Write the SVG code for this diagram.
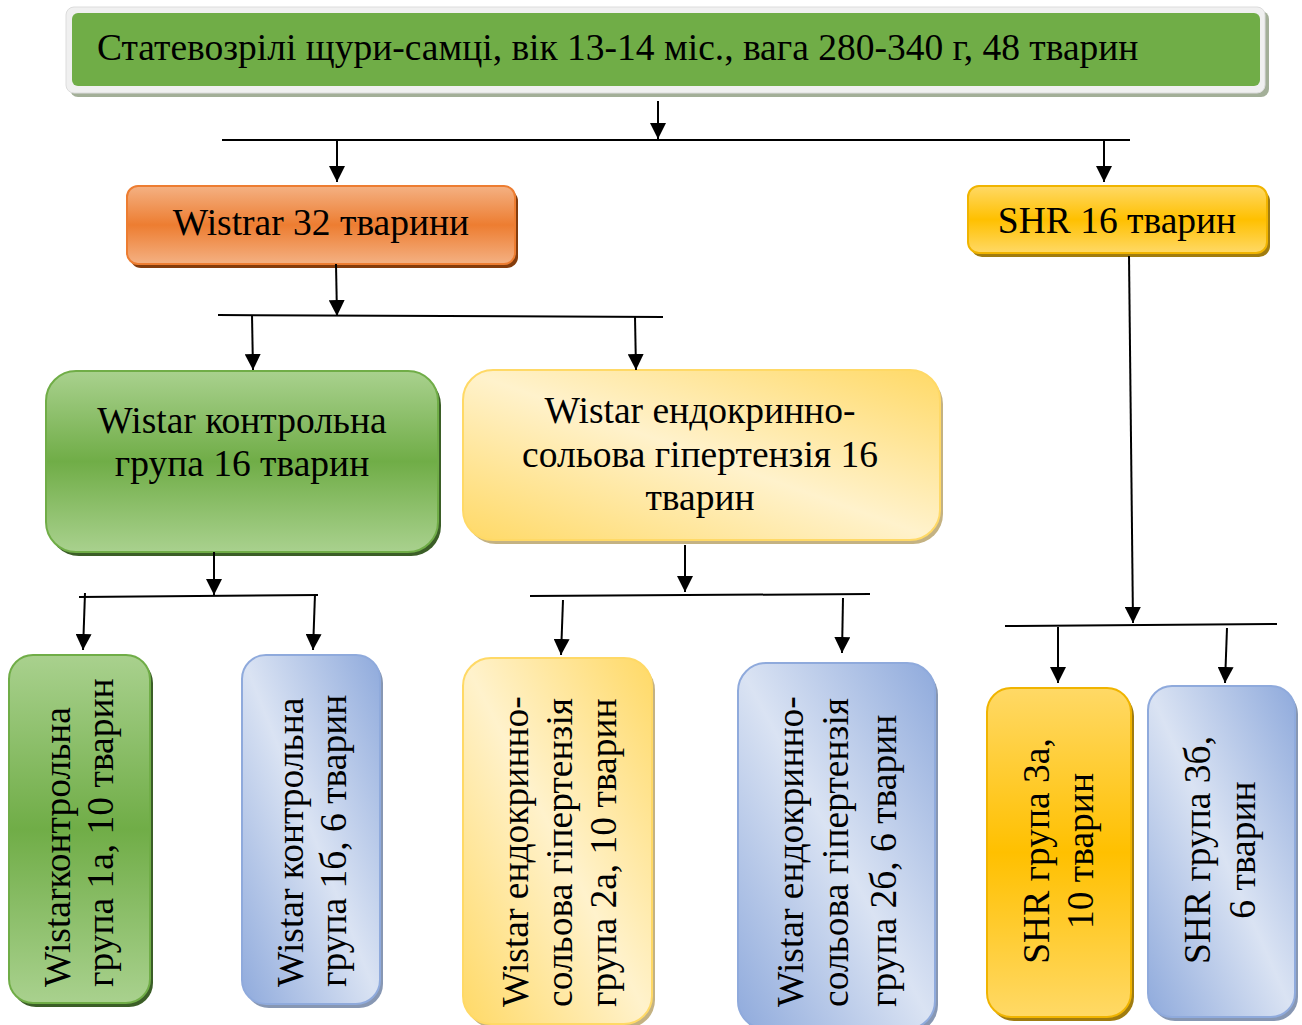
<svg xmlns="http://www.w3.org/2000/svg" width="1302" height="1025" viewBox="0 0 1302 1025">
<defs>
<linearGradient id="gOrange" x1="0" y1="0" x2="0" y2="1"><stop offset="0" stop-color="#F4B183"/><stop offset="0.5" stop-color="#ED7D31"/><stop offset="1" stop-color="#F4B183"/></linearGradient>
<linearGradient id="gGold" x1="0" y1="0" x2="0" y2="1"><stop offset="0" stop-color="#FFD966"/><stop offset="0.5" stop-color="#FFC000"/><stop offset="1" stop-color="#FFD966"/></linearGradient>
<linearGradient id="gGreen" x1="0" y1="0" x2="0" y2="1"><stop offset="0" stop-color="#A9D18E"/><stop offset="0.5" stop-color="#70AD47"/><stop offset="1" stop-color="#A9D18E"/></linearGradient>
<linearGradient id="gCream" x1="1" y1="0" x2="0" y2="1"><stop offset="0" stop-color="#FFD966"/><stop offset="0.5" stop-color="#FFF2CC"/><stop offset="1" stop-color="#FFD966"/></linearGradient>
<linearGradient id="gBlue" x1="1" y1="0" x2="0" y2="1"><stop offset="0" stop-color="#8FAADC"/><stop offset="0.5" stop-color="#DAE3F3"/><stop offset="1" stop-color="#8FAADC"/></linearGradient>
<marker id="arr" markerUnits="userSpaceOnUse" markerWidth="16" markerHeight="16" viewBox="0 0 15 15" refX="15" refY="7.5" orient="auto"><path d="M0,0 L15,7.5 L0,15 z" fill="#000"/></marker>
</defs>
<style>
text{font-family:"Liberation Serif","Times New Roman",serif;fill:#000;font-size:37.5px}
.v{font-size:37.5px}
.c{stroke:#000;stroke-width:2;fill:none}
.a{marker-end:url(#arr)}
.orange{fill:url(#gOrange);stroke:#ED7D31;stroke-width:2}
.gold{fill:url(#gGold);stroke:#F0B400;stroke-width:2}
.green{fill:url(#gGreen);stroke:#70AD47;stroke-width:2}
.cream{fill:url(#gCream);stroke:#FFD966;stroke-width:2}
.blue{fill:url(#gBlue);stroke:#8FAADC;stroke-width:2}
</style>
<rect width="1302" height="1025" fill="#fff"/>

<g id="top">
<rect x="70" y="11" width="1199" height="86" rx="8" fill="#A3AF98"/>
<rect x="66" y="7" width="1199" height="86" rx="8" fill="#F0F0F0" stroke="#DCDCDC" stroke-width="1"/>
<rect x="72" y="13" width="1188" height="73" rx="6" fill="#70AD47"/>
<text x="97" y="60">Статевозрілі щури-самці, вік 13-14 міс., вага 280-340 г, 48 тварин</text>
</g>

<g id="wistrar">
<rect x="130" y="190" width="388" height="78" rx="11" fill="#843C0C"/>
<rect x="127" y="186" width="388" height="78" rx="11" class="orange"/>
<text x="321" y="235" text-anchor="middle">Wistrar 32 тварини</text>
</g>

<g id="shr">
<rect x="971" y="190" width="299" height="67" rx="11" fill="#A07C10"/>
<rect x="968" y="186" width="299" height="67" rx="11" class="gold"/>
<text x="1117" y="233" text-anchor="middle">SHR 16 тварин</text>
</g>

<g id="wistar-control">
<rect x="49" y="375" width="392" height="181" rx="30" fill="#3B5E27"/>
<rect x="46" y="371" width="392" height="181" rx="30" class="green"/>
<text x="242" y="433" text-anchor="middle">Wistar контрольна</text>
<text x="242" y="476" text-anchor="middle">група 16 тварин</text>
</g>

<g id="wistar-hyper">
<rect x="466" y="374" width="477" height="170" rx="30" fill="#C4B282"/>
<rect x="463" y="370" width="477" height="170" rx="30" class="cream"/>
<text x="700" y="423" text-anchor="middle">Wistar ендокринно-</text>
<text x="700" y="467" text-anchor="middle">сольова гіпертензія 16</text>
<text x="700" y="510" text-anchor="middle">тварин</text>
</g>

<g id="g1a">
<rect x="12" y="659" width="141" height="348" rx="24" fill="#3B5E27"/>
<rect x="9" y="655" width="141" height="348" rx="24" class="green"/>
<text class="v" transform="translate(70,987) rotate(-90)">Wistarконтрольна</text>
<text class="v" transform="translate(113,987) rotate(-90)">група 1а, 10 тварин</text>
</g>

<g id="g1b">
<rect x="245" y="659" width="138" height="349" rx="24" fill="#8797B3"/>
<rect x="242" y="655" width="138" height="349" rx="24" class="blue"/>
<text class="v" transform="translate(303,987) rotate(-90)">Wistar контрольна</text>
<text class="v" transform="translate(346,987) rotate(-90)">група 1б, 6 тварин</text>
</g>

<g id="g2a">
<rect x="466" y="662" width="189" height="366" rx="28" fill="#C4B282"/>
<rect x="463" y="658" width="189" height="366" rx="28" class="cream"/>
<text class="v" transform="translate(528,1007) rotate(-90)">Wistar ендокринно-</text>
<text class="v" transform="translate(572,1007) rotate(-90)">сольова гіпертензія</text>
<text class="v" transform="translate(616,1007) rotate(-90)">група 2а, 10 тварин</text>
</g>

<g id="g2b">
<rect x="741" y="667" width="197" height="366" rx="28" fill="#8797B3"/>
<rect x="738" y="663" width="197" height="366" rx="28" class="blue"/>
<text class="v" transform="translate(803,1007) rotate(-90)">Wistar ендокринно-</text>
<text class="v" transform="translate(848,1007) rotate(-90)">сольова гіпертензія</text>
<text class="v" transform="translate(896,1007) rotate(-90)">група 2б, 6 тварин</text>
</g>

<g id="g3a">
<rect x="990" y="692" width="144" height="329" rx="24" fill="#A07C10"/>
<rect x="987" y="688" width="144" height="329" rx="24" class="gold"/>
<text class="v" text-anchor="middle" transform="translate(1049,851) rotate(-90)">SHR група 3а,</text>
<text class="v" text-anchor="middle" transform="translate(1093,851) rotate(-90)">10 тварин</text>
</g>

<g id="g3b">
<rect x="1151" y="690" width="147" height="331" rx="24" fill="#8797B3"/>
<rect x="1148" y="686" width="147" height="331" rx="24" class="blue"/>
<text class="v" text-anchor="middle" transform="translate(1210,850) rotate(-90)">SHR група 3б,</text>
<text class="v" text-anchor="middle" transform="translate(1255,850) rotate(-90)">6 тварин</text>
</g>

<g id="connectors">
<path class="c a" d="M658,101 L658,139"/>
<path class="c" d="M222,140 L1130,140"/>
<path class="c a" d="M337,140 L337,182"/>
<path class="c a" d="M1104,140 L1104,182"/>
<path class="c a" d="M336,264 L337,316"/>
<path class="c" d="M218,315 L663,317"/>
<path class="c a" d="M252,315 L253,370"/>
<path class="c a" d="M635,317 L636,370"/>
<path class="c a" d="M214,552 L214,595"/>
<path class="c" d="M79,597 L318,595"/>
<path class="c a" d="M85,593 L83,650"/>
<path class="c a" d="M315,594 L313,650"/>
<path class="c a" d="M685,545 L685,592"/>
<path class="c" d="M530,596 L870,594"/>
<path class="c a" d="M563,600 L561,655"/>
<path class="c a" d="M843,598 L842,653"/>
<path class="c a" d="M1129,256 L1133,623"/>
<path class="c" d="M1005,626 L1277,624"/>
<path class="c a" d="M1058,627 L1058,683"/>
<path class="c a" d="M1227,628 L1225,683"/>
</g>
</svg>
